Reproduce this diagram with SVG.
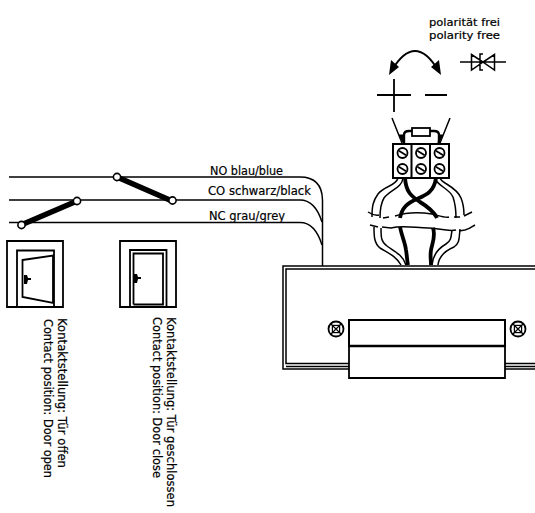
<svg xmlns="http://www.w3.org/2000/svg" width="535" height="513" viewBox="0 0 535 513">
<defs>
<g id="termscrew"><circle r="5" fill="#fff" stroke="#000" stroke-width="1.8"/><path d="M-3.6-2.2L3.6 2.2" stroke="#000" stroke-width="1.8"/></g>
<g id="boxscrew"><circle r="7.5" fill="#fff" stroke="#000" stroke-width="1.8"/><rect x="-3.600" y="-3.600" width="7.200" height="7.200" fill="none" stroke="#000" stroke-width="1.200"/><path d="M-5.500-5.500L5.500 5.500M5.500-5.500L-5.500 5.500" stroke="#000" stroke-width="1.200"/></g>
</defs>
<style>
.l{fill:none;stroke:#000;stroke-width:1.5}
.m{fill:none;stroke:#000;stroke-width:1.8}
.b{fill:none;stroke:#000;stroke-width:3.800}
.t{font-family:"DejaVu Sans",sans-serif;font-size:11.5px;fill:#000;stroke:#000;stroke-width:.2}
.s{font-size:10px}
.f{fill:#fff;stroke:#000;stroke-width:1.6}
</style>
<rect width="535" height="513" fill="#fff"/>
<g id="connectors">
<path class="l" d="M9 177H300Q322 177 322.500 200V266"/>
<path class="l" d="M9 200H300Q315 200 322 222"/>
<path class="l" d="M9 222.500H300Q315 222.500 322 245"/>
<path d="M21 225L77 201M117 177L172 201" stroke="#000" stroke-width="5.500" fill="none"/>
<circle class="f" cx="21.500" cy="225" r="3.600"/><circle class="f" cx="77" cy="201" r="3.600"/>
<circle class="f" cx="117" cy="177" r="3.600"/><circle class="f" cx="172.500" cy="200.500" r="3.600"/>
</g>
<g id="labels-wires">
<text class="t" x="210" y="175" textLength="73" lengthAdjust="spacingAndGlyphs">NO blau/blue</text>
<text class="t" x="208" y="195" textLength="103" lengthAdjust="spacingAndGlyphs">CO schwarz/black</text>
<text class="t" x="209" y="220" textLength="76" lengthAdjust="spacingAndGlyphs">NC grau/grey</text>
</g>
<g id="door-open">
<path class="m" d="M7 307V241H63V307ZM17 307V250.500H54V307"/>
<path class="m" d="M22.500 260L53 255.500V303L22.500 297Z"/>
<path d="M24 275h3l1 3h3v2h-3l-1 4h-3Z" fill="#000"/>
<text class="t" transform="translate(58 318) rotate(90)" textLength="150" lengthAdjust="spacingAndGlyphs">Kontaktstellung: Tür offen</text>
<text class="t" transform="translate(44 319) rotate(90)" textLength="159" lengthAdjust="spacingAndGlyphs">Contact position: Door open</text>
</g>
<g id="door-closed">
<path class="m" d="M120 307V241H176V307Z"/>
<path class="m" d="M130 307V250H166.500V307M133.500 304.500V253.500H163V304.500H133.500"/>
<path d="M134 274h3l1 3h3v2h-3l-1 4h-3Z" fill="#000"/>
<text class="t" transform="translate(167 317) rotate(90)" textLength="190" lengthAdjust="spacingAndGlyphs">Kontaktstellung: Tür geschlossen</text>
<text class="t" transform="translate(153 317) rotate(90)" textLength="161" lengthAdjust="spacingAndGlyphs">Contact position: Door close</text>
</g>
<g id="polarity">
<text class="t s" x="429" y="26" textLength="71" lengthAdjust="spacingAndGlyphs">polarität frei</text>
<text class="t s" x="429" y="38.500" textLength="71" lengthAdjust="spacingAndGlyphs">polarity free</text>
<path class="m" d="M392 70Q415 32 438 70"/>
<path d="M389 75L391 60L399 67Z M441 75L439 60L431 67Z" fill="#000"/>
<path class="m" d="M394 79V112M377 95H411M425 95H447"/>
<path class="l" d="M460 62H506M471.500 54.500V70L483 62ZM494.500 54.500V70L483 62ZM483 70H480V54H483"/>
</g>
<g id="wiring">
<path class="l" d="M398 178C396 186 384 186 378 194C373 201 372 206 372 217M403 178C402 188 390 190 384 198C381 203 380 209 380 218"/>
<path class="l" d="M435 178C437 186 449 188 453 197C455 203 456 209 456 218M440 178C442 184 456 186 461 198C463 203 464 209 464 215"/>
<path class="b" d="M405 178C406 192 411 196 420 202C430 208 434 212 437 218"/>
<path class="b" d="M436 178C434 192 426 195 417 199C407 203 402 208 400 218"/>
<path class="l" d="M368 212Q374 216 379 215M383 218L389 217M395 216C407 212 420 212 432 214C440 216 445 218 449 217M454 217L460 217M464 216L472 212"/>
<path class="l" d="M370 225L378 227M382 227L391 228C403 225 416 228 428 228C438 228 448 232 456 230M459 231L465 230C470 229 473 226 475 225"/>
<path class="l" d="M374 227C374 236 374 243 380 248C388 253 396 256 401 265M381 228C381 237 381 242 387 246C394 251 403 255 406 265"/>
<path class="l" d="M460 229C459 238 460 243 454 247C447 250 439 255 438 265M452 230C451 238 451 241 446 244C439 248 433 254 432 265"/>
<path class="b" d="M400 227C402 237 405 242 406 250C407 256 407 260 408 265"/>
<path class="b" d="M433 228C436 236 432 244 431 250C430 256 431 260 431 265"/>
</g>
<g id="terminal-block">
<path class="l" d="M392 118L402 143M450 118L440 143"/>
<path d="M399 135L404 144L403 135ZM443 135L438 144L439 135Z" fill="#000" stroke="#000"/>
<path d="M404 144V135Q404 131 409 131H434Q439 131 439 135V144" fill="none" stroke="#000" stroke-width="2.400"/>
<rect x="412" y="128" width="18" height="8" fill="#fff" stroke="#000" stroke-width="1.800"/>
<path d="M393 144H449V178H393ZM411.500 144V178M430 144V178" fill="none" stroke="#000" stroke-width="2"/>
<use href="#termscrew" x="402.500" y="153"/><use href="#termscrew" x="421" y="153"/><use href="#termscrew" x="439.500" y="153"/>
<use href="#termscrew" x="402.500" y="169"/><use href="#termscrew" x="421" y="169"/><use href="#termscrew" x="439.500" y="169"/>
</g>
<g id="housing">
<path class="l" d="M535 266H283V369H349M535 269H286V363.500H349M349 366.500H286M505 363.500H535M505 366.500H535M505 369H535"/>
<rect x="349" y="320" width="156" height="26" fill="#fff" stroke="#000" stroke-width="2"/>
<path d="M349 346H505V378H349Z" fill="#fff" stroke="#000" stroke-width="1.800"/>
<path d="M349 346H505" stroke="#000" stroke-width="2.500"/>
<use href="#boxscrew" x="336" y="329"/><use href="#boxscrew" x="518" y="329"/>
</g>
</svg>
